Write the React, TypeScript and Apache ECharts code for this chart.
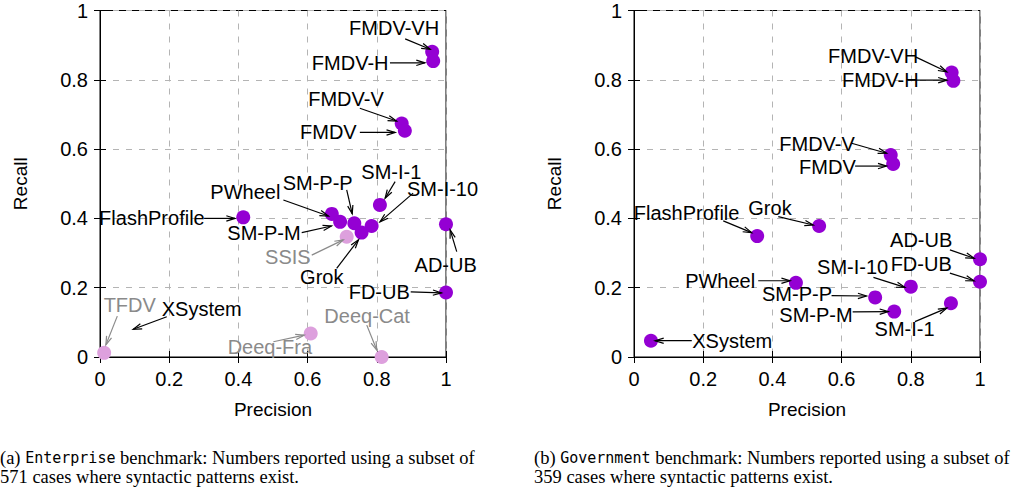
import React, { useEffect, useRef } from "react";
import * as echarts from "echarts";

// ---------- Data: (a) Enterprise benchmark ----------
const enterpriseNames = [
  "FMDV-VH", "FMDV-H", "FMDV-V", "FMDV", "FlashProfile", "PWheel", "SM-P-M",
  "SM-P-P", "SM-I-1", "SM-I-10", "Grok", "AD-UB", "FD-UB",
  "SSIS", "TFDV", "Deeq-Fra", "Deeq-Cat",
];
const enterprisePrecision = [
  0.960, 0.963, 0.872, 0.881, 0.414, 0.670, 0.694,
  0.735, 0.809, 0.785, 0.756, 1.0, 1.0,
  0.713, 0.012, 0.609, 0.814,
];
const enterpriseRecall = [
  0.881, 0.854, 0.674, 0.653, 0.403, 0.413, 0.390,
  0.386, 0.439, 0.378, 0.359, 0.383, 0.186,
  0.347, 0.012, 0.068, 0.0,
];
// methods whose numbers are reported on a partial subset (drawn lighter)
const enterpriseMuted = ["SSIS", "TFDV", "Deeq-Fra", "Deeq-Cat"];

// ---------- Data: (b) Government benchmark ----------
const governmentNames = [
  "FMDV-VH", "FMDV-H", "FMDV-V", "FMDV", "FlashProfile", "Grok", "AD-UB",
  "FD-UB", "PWheel", "SM-I-10", "SM-P-P", "SM-P-M", "SM-I-1", "XSystem",
];
const governmentPrecision = [
  0.918, 0.923, 0.742, 0.749, 0.356, 0.535, 1.0,
  1.0, 0.468, 0.800, 0.697, 0.752, 0.916, 0.049,
];
const governmentRecall = [
  0.821, 0.797, 0.583, 0.557, 0.349, 0.378, 0.282,
  0.217, 0.214, 0.203, 0.172, 0.131, 0.155, 0.047,
];
const governmentMuted: string[] = [];

// ---------- Annotations (label anchor, arrow from -> to), in data units ----------
type Note = [string, number, number, number, number, number, number];
const enterpriseNotes: Note[] = [
  ["FMDV-VH", 0.850, 0.949, 0.882, 0.918, 0.954, 0.888],
  ["FMDV-H", 0.723, 0.849, 0.838, 0.849, 0.939, 0.849],
  ["FMDV-V", 0.711, 0.745, 0.751, 0.718, 0.857, 0.681],
  ["FMDV", 0.660, 0.648, 0.751, 0.648, 0.853, 0.648],
  ["SM-I-1", 0.842, 0.535, 0.853, 0.506, 0.824, 0.458],
  ["SM-I-10", 0.990, 0.485, 0.905, 0.473, 0.809, 0.390],
  ["PWheel", 0.420, 0.477, 0.530, 0.453, 0.660, 0.407],
  ["SM-P-P", 0.629, 0.503, 0.713, 0.482, 0.729, 0.413],
  ["FlashProfile", 0.150, 0.400, 0.301, 0.400, 0.390, 0.400],
  ["SM-P-M", 0.474, 0.357, 0.583, 0.359, 0.669, 0.378],
  ["SSIS", 0.543, 0.289, 0.612, 0.294, 0.703, 0.338],
  ["Grok", 0.641, 0.230, 0.684, 0.256, 0.747, 0.338],
  ["AD-UB", 0.999, 0.266, 1.031, 0.304, 1.012, 0.367],
  ["FD-UB", 0.807, 0.187, 0.898, 0.188, 0.987, 0.185],
  ["TFDV", 0.086, 0.150, 0.050, 0.118, 0.017, 0.035],
  ["XSystem", 0.294, 0.139, 0.193, 0.116, 0.096, 0.080],
  ["Deeq-Fra", 0.491, 0.030, 0.501, 0.044, 0.590, 0.063],
  ["Deeq-Cat", 0.772, 0.118, 0.771, 0.092, 0.800, 0.020],
];
const governmentNotes: Note[] = [
  ["FMDV-VH", 0.691, 0.869, 0.812, 0.867, 0.904, 0.823],
  ["FMDV-H", 0.712, 0.799, 0.792, 0.799, 0.904, 0.799],
  ["FMDV-V", 0.529, 0.615, 0.629, 0.617, 0.730, 0.588],
  ["FMDV", 0.559, 0.549, 0.639, 0.551, 0.730, 0.551],
  ["FlashProfile", 0.152, 0.416, 0.258, 0.393, 0.340, 0.359],
  ["Grok", 0.393, 0.429, 0.417, 0.405, 0.518, 0.381],
  ["AD-UB", 0.830, 0.338, 0.913, 0.309, 0.983, 0.285],
  ["FD-UB", 0.830, 0.268, 0.913, 0.242, 0.983, 0.220],
  ["SM-I-10", 0.632, 0.259, 0.692, 0.230, 0.783, 0.201],
  ["PWheel", 0.249, 0.220, 0.359, 0.220, 0.451, 0.220],
  ["SM-P-P", 0.471, 0.181, 0.571, 0.177, 0.672, 0.176],
  ["SM-P-M", 0.526, 0.122, 0.632, 0.130, 0.735, 0.131],
  ["SM-I-1", 0.782, 0.080, 0.812, 0.102, 0.904, 0.141],
  ["XSystem", 0.284, 0.046, 0.167, 0.047, 0.061, 0.047],
];

const xTicks = [0, 0.2, 0.4, 0.6, 0.8, 1];
const yTicks = [0, 0.2, 0.4, 0.6, 0.8, 1];

const captionA = ["(a) {m|Enterprise} benchmark: Numbers reported using a subset of", "571 cases where syntactic patterns exist."];
const captionB = ["(b) {m|Government} benchmark: Numbers reported using a subset of", "359 cases where syntactic patterns exist."];

const DARK = "#9400d3";
const LIGHT = "#dda0dd";
const MUTED_TEXT = "#8a8a8a";
const FONT = "'Liberation Sans', Arial, Helvetica, sans-serif";

function fmt(v: number) {
  return String(Number(v.toFixed(2)));
}

export default function App() {
  const ref = useRef<HTMLDivElement>(null);

  useEffect(() => {
    if (!ref.current) return;
    const chart = echarts.init(ref.current, undefined, { renderer: "svg" });

    const grids = [
      { left: 100, top: 10.5, width: 346, height: 346.5 },
      { left: 634, top: 10.5, width: 346, height: 346.5 },
    ];

    const xAxes: any[] = [];
    const yAxes: any[] = [];
    const series: any[] = [];

    const panels = [
      { names: enterpriseNames, px: enterprisePrecision, ry: enterpriseRecall, muted: enterpriseMuted, notes: enterpriseNotes },
      { names: governmentNames, px: governmentPrecision, ry: governmentRecall, muted: governmentMuted, notes: governmentNotes },
    ];

    panels.forEach((p, gi) => {
      const baseAxis = {
        type: "value",
        gridIndex: gi,
        min: 0,
        max: 1,
        interval: 0.2,
        axisLine: { show: true, lineStyle: { color: "#000", width: 1 } },
        axisTick: { show: true, inside: true, length: 6, lineStyle: { color: "#000", width: 1 } },
      };
      xAxes.push({
        ...baseAxis,
        position: "bottom",
        name: "Precision",
        nameLocation: "middle",
        nameGap: 43,
        nameTextStyle: { fontFamily: FONT, fontSize: 19, color: "#000" },
        axisLabel: { fontFamily: FONT, fontSize: 20, color: "#000", margin: 12, formatter: (v: number) => (xTicks.includes(Number(v.toFixed(2))) ? fmt(v) : "") },
        splitLine: { show: true, lineStyle: { color: "#b4b4b4", type: [6, 7], width: 1 } },
      });
      xAxes.push({
        ...baseAxis,
        position: "top",
        axisLabel: { show: false },
        splitLine: { show: false },
      });
      yAxes.push({
        ...baseAxis,
        position: "left",
        name: "Recall",
        nameLocation: "middle",
        nameRotate: 90,
        nameGap: 70,
        nameTextStyle: { fontFamily: FONT, fontSize: 19, color: "#000" },
        axisLabel: { fontFamily: FONT, fontSize: 20, color: "#000", margin: 12, formatter: (v: number) => (yTicks.includes(Number(v.toFixed(2))) ? fmt(v) : "") },
        splitLine: { show: true, lineStyle: { color: "#b4b4b4", type: [6, 7], width: 1 } },
      });
      yAxes.push({
        ...baseAxis,
        position: "right",
        axisLabel: { show: false },
        splitLine: { show: false },
      });

      const xi = gi * 2;
      const yi = gi * 2;

      const lightData: number[][] = [];
      const darkData: number[][] = [];
      p.names.forEach((n, i) => {
        const pt = [p.px[i], p.ry[i]];
        if (p.muted.includes(n)) lightData.push(pt);
        else darkData.push(pt);
      });

      series.push({
        type: "scatter",
        xAxisIndex: xi,
        yAxisIndex: yi,
        data: lightData,
        symbolSize: 14,
        itemStyle: { color: LIGHT, opacity: 1 },
        z: 3,
        silent: true,
      });
      series.push({
        type: "scatter",
        xAxisIndex: xi,
        yAxisIndex: yi,
        data: darkData,
        symbolSize: 14,
        itemStyle: { color: DARK, opacity: 1 },
        z: 4,
        silent: true,
      });

      const notes = p.notes;
      series.push({
        type: "custom",
        xAxisIndex: xi,
        yAxisIndex: yi,
        clip: false,
        z: 5,
        silent: true,
        data: notes.map((nt) => [nt[3], nt[4], nt[5], nt[6]]),
        renderItem: (params: any, api: any) => {
          const nt = notes[params.dataIndex];
          const muted = p.muted.includes(nt[0]);
          const color = muted ? MUTED_TEXT : "#000";
          const p1 = api.coord([api.value(0), api.value(1)]);
          const p2 = api.coord([api.value(2), api.value(3)]);
          const ang = Math.atan2(p2[1] - p1[1], p2[0] - p1[0]);
          const L = 9;
          const a = 0.3;
          const h1 = [p2[0] - L * Math.cos(ang - a), p2[1] - L * Math.sin(ang - a)];
          const h2 = [p2[0] - L * Math.cos(ang + a), p2[1] - L * Math.sin(ang + a)];
          return {
            type: "group",
            children: [
              { type: "line", shape: { x1: p1[0], y1: p1[1], x2: p2[0], y2: p2[1] }, style: { stroke: color, lineWidth: 1.2 } },
              { type: "polyline", shape: { points: [h1, p2, h2] }, style: { stroke: color, fill: null, lineWidth: 1.2 } },
            ],
          };
        },
      });
      series.push({
        type: "custom",
        xAxisIndex: xi,
        yAxisIndex: yi,
        clip: false,
        z: 6,
        silent: true,
        data: notes.map((nt) => [nt[1], nt[2]]),
        renderItem: (params: any, api: any) => {
          const nt = notes[params.dataIndex];
          const muted = p.muted.includes(nt[0]);
          const c = api.coord([api.value(0), api.value(1)]);
          return {
            type: "text",
            x: c[0],
            y: c[1],
            style: {
              text: nt[0],
              fill: muted ? MUTED_TEXT : "#000",
              font: `20px ${FONT}`,
              align: "center",
              verticalAlign: "middle",
            },
          };
        },
      });
    });

    const captionRich = {
      m: { fontFamily: "'DejaVu Sans Mono', 'Liberation Mono', monospace", fontSize: 15, color: "#000" },
    };
    const caption = (lines: string[], x: number) => ({
      type: "text",
      left: x,
      top: 448,
      style: {
        text: lines.join("\n"),
        fontFamily: "'Liberation Serif', 'DejaVu Serif', serif",
        fontSize: 18.5,
        lineHeight: 19,
        fill: "#000",
        rich: captionRich,
      },
    });

    chart.setOption({
      animation: false,
      grid: grids.map((g) => ({ ...g, show: true, borderColor: "#000", borderWidth: 1, backgroundColor: "transparent" })),
      xAxis: xAxes,
      yAxis: yAxes,
      series,
      graphic: [caption(captionA, 0), caption(captionB, 534)],
    });

    return () => chart.dispose();
  }, []);

  return (
    <div
      ref={ref}
      style={{ position: "absolute", left: 0, top: 0, width: 1020, height: 491, background: "#fff" }}
    />
  );
}
